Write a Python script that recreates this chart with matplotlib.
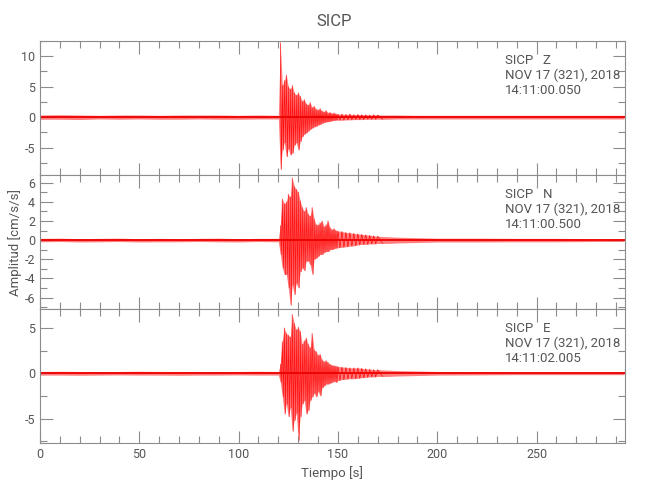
import numpy as np
import matplotlib
matplotlib.use("Agg")
import matplotlib.pyplot as plt
from matplotlib.ticker import MultipleLocator

plt.rcParams['font.family'] = ['Roboto', 'DejaVu Sans']
plt.rcParams['axes.unicode_minus'] = False

GRAY = '#8c8c8c'
TXT = '#555555'

# tiempos de lectura de la envolvente [s]
t_pre = [0, 10, 20, 30, 40, 50, 60, 70, 80, 90, 100, 110, 120]
t_evt = list(range(121, 151))
t_post = [152, 154, 156, 158, 160, 162, 164, 166, 168, 170,
          175, 180, 190, 200, 220, 240, 260, 280, 294]
tiempo = t_pre + t_evt + t_post

# componente Z: picos positivos y negativos [cm/s/s]
z_up = [0.35, 0.4, 0.35, 0.3, 0.35, 0.35, 0.3, 0.35, 0.35, 0.35, 0.3, 0.35, 0.3,
        12.2, 5.2, 6.0, 6.9, 5.0, 4.6, 5.2, 4.0, 3.6, 4.0, 3.4, 2.6, 2.9, 2.2, 2.0,
        2.4, 1.6, 1.8, 1.3, 1.2, 1.4, 1.0, 0.9, 1.1, 0.7, 0.8, 0.6, 0.7, 0.55, 0.5,
        0.5, 0.45, 0.5, 0.4, 0.45, 0.4, 0.4, 0.35, 0.4, 0.35,
        0.35, 0.35, 0.3, 0.3, 0.3, 0.3, 0.3, 0.3, 0.3]
z_lo = [-0.35, -0.35, -0.4, -0.3, -0.35, -0.3, -0.35, -0.35, -0.3, -0.35, -0.35, -0.3, -0.3,
        -8.6, -5.4, -4.2, -6.5, -5.2, -6.2, -5.9, -4.6, -4.2, -5.4, -4.0, -3.2, -2.8, -2.6, -2.3,
        -2.0, -1.8, -1.6, -1.5, -1.3, -1.2, -1.0, -0.9, -0.8, -0.75, -0.7, -0.6, -0.55, -0.5, -0.5,
        -0.5, -0.45, -0.45, -0.4, -0.4, -0.4, -0.35, -0.35, -0.35, -0.35,
        -0.35, -0.3, -0.3, -0.3, -0.3, -0.3, -0.3, -0.3, -0.3]

# componente N
n_up = [0.18, 0.2, 0.15, 0.18, 0.2, 0.15, 0.18, 0.15, 0.18, 0.2, 0.15, 0.18, 0.18,
        1.5, 4.3, 3.8, 4.0, 4.8, 4.5, 6.5, 5.6, 5.3, 5.0, 4.1, 3.4, 3.0, 3.4, 2.7,
        2.5, 3.4, 2.2, 1.6, 1.6, 1.8, 2.0, 1.4, 1.6, 2.0, 1.3, 1.1, 1.2, 1.0, 0.95,
        0.9, 0.8, 0.77, 0.7, 0.65, 0.6, 0.55, 0.5, 0.45, 0.4,
        0.35, 0.3, 0.25, 0.2, 0.2, 0.18, 0.18, 0.15, 0.15]
n_lo = [-0.18, -0.15, -0.2, -0.18, -0.15, -0.2, -0.18, -0.18, -0.15, -0.18, -0.2, -0.15, -0.18,
        -1.5, -2.9, -3.6, -3.6, -5.0, -6.8, -4.7, -5.7, -4.5, -5.0, -3.3, -2.9, -3.2, -2.2, -2.2,
        -2.6, -3.6, -2.0, -1.9, -1.7, -1.5, -1.5, -1.3, -1.2, -1.2, -1.0, -1.0, -0.9, -0.85, -0.8,
        -0.75, -0.7, -0.63, -0.6, -0.5, -0.45, -0.45, -0.4, -0.4, -0.35,
        -0.35, -0.3, -0.25, -0.2, -0.2, -0.18, -0.18, -0.15, -0.15]

# componente E
e_up = [0.2, 0.22, 0.2, 0.18, 0.2, 0.22, 0.2, 0.2, 0.18, 0.2, 0.2, 0.22, 0.2,
        1.0, 3.5, 5.0, 4.4, 4.2, 4.0, 6.5, 5.5, 4.8, 5.1, 4.6, 3.2, 3.6, 3.9, 3.2,
        2.8, 4.4, 2.6, 2.4, 2.0, 2.1, 1.5, 1.3, 1.4, 1.2, 1.0, 0.9, 0.85, 0.8, 0.75,
        0.7, 0.65, 0.6, 0.6, 0.6, 0.55, 0.5, 0.45, 0.4, 0.4,
        0.35, 0.3, 0.25, 0.2, 0.18, 0.15, 0.15, 0.15, 0.15]
e_lo = [-0.2, -0.2, -0.22, -0.2, -0.18, -0.2, -0.2, -0.22, -0.2, -0.2, -0.18, -0.2, -0.2,
        -1.0, -2.6, -4.5, -3.4, -4.8, -3.8, -6.4, -5.2, -4.4, -7.4, -4.8, -3.4, -3.0, -4.5, -4.1,
        -3.0, -2.6, -2.2, -2.6, -2.0, -2.5, -1.6, -1.4, -1.2, -1.2, -1.1, -1.0, -0.9, -1.0, -0.8,
        -0.7, -0.65, -0.6, -0.6, -0.55, -0.5, -0.45, -0.4, -0.4, -0.35,
        -0.35, -0.3, -0.25, -0.2, -0.18, -0.15, -0.15, -0.15, -0.15]

canales = [('Z', z_up, z_lo, '14:11:00.050'),
           ('N', n_up, n_lo, '14:11:00.500'),
           ('E', e_up, e_lo, '14:11:02.005')]
limites = [(-9.5, 12.5), (-7.2, 6.8), (-7.7, 7.1)]
ticks_y = [(5, 2.5), (2, 1), (5, 2.5)]

fig = plt.figure(figsize=(6.5, 5), dpi=100)
alto = 0.268
abajo = [0.114 + 2 * alto, 0.114 + alto, 0.114]

t = np.array(tiempo, dtype=float)
paso = np.diff(np.append(t, t[-1] + 1.0))
evento = (t >= 121) & (t <= 170)
for i, (comp, up, lo, hora) in enumerate(canales):
    ax = fig.add_axes([0.0615, abajo[i], 0.9, alto])
    up = np.array(up)
    lo = np.array(lo)
    # traza en zigzag entre picos, solo en la parte con sismo
    te = t[evento]
    xs = np.empty(2 * len(te))
    ys = np.empty(2 * len(te))
    xs[0::2] = te
    xs[1::2] = te + paso[evento] / 2
    ys[0::2] = up[evento]
    ys[1::2] = lo[evento]
    ax.fill_between(t, lo, up, color='#ff0000', alpha=0.5, lw=0)
    ax.plot(xs, ys, color='#ff0000', lw=0.5, alpha=0.9)
    ax.axhline(0, color='#ee0000', lw=1.3)

    ax.set_xlim(0, 294.5)
    ax.set_ylim(*limites[i])
    ax.xaxis.set_major_locator(MultipleLocator(50))
    ax.xaxis.set_minor_locator(MultipleLocator(10))
    ax.yaxis.set_major_locator(MultipleLocator(ticks_y[i][0]))
    ax.yaxis.set_minor_locator(MultipleLocator(ticks_y[i][1]))
    ax.tick_params(which='both', direction='in', top=True, right=True,
                   color=GRAY, labelcolor=TXT, labelsize=9)
    ax.tick_params(which='major', length=9, width=0.8)
    ax.tick_params(which='minor', length=5, width=0.8)
    for s in ax.spines.values():
        s.set_color(GRAY)
        s.set_linewidth(0.8)
    if i < 2:
        ax.set_xticklabels([])
    else:
        ax.set_xlabel('Tiempo [s]', color=TXT, fontsize=9.5)
    if i == 1:
        ax.set_ylabel('Amplitud [cm/s/s]', color=TXT, fontsize=9.5, labelpad=2)

    ax.text(0.795, 0.9, 'SICP   %s\nNOV 17 (321), 2018\n%s' % (comp, hora),
            transform=ax.transAxes, va='top', ha='left', color=TXT,
            fontsize=9.5, linespacing=1.15)

fig.text(0.514, 0.956, 'SICP', ha='center', va='center', color=TXT, fontsize=12)

plt.savefig('out.png', dpi=100)
